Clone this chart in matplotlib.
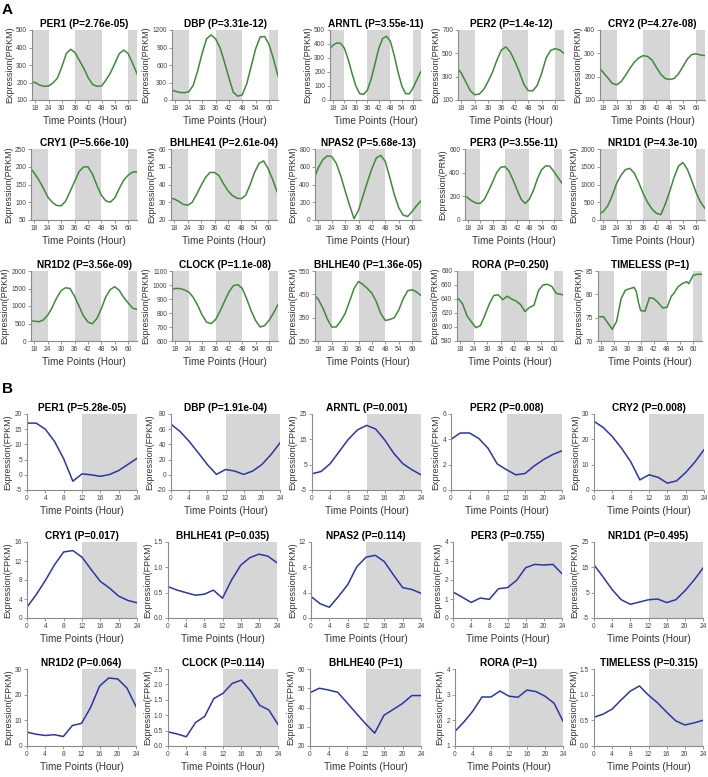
import matplotlib
matplotlib.use('Agg')
import matplotlib.pyplot as plt
import numpy as np

plt.rcParams['font.family'] = ['Liberation Sans', 'DejaVu Sans']

# ---------------- data ----------------
genes = ['PER1', 'DBP', 'ARNTL', 'PER2', 'CRY2',
         'CRY1', 'BHLHE41', 'NPAS2', 'PER3', 'NR1D1',
         'NR1D2', 'CLOCK', 'BHLHE40', 'RORA', 'TIMELESS']
pvals_A = ['2.76e-05', '3.31e-12', '3.55e-11', '1.4e-12', '4.27e-08',
           '5.66e-10', '2.61e-04', '5.68e-13', '3.55e-11', '4.3e-10',
           '3.56e-09', '1.1e-08', '1.36e-05', '0.250', '1']
pvals_B = ['5.28e-05', '1.91e-04', '0.001', '0.008', '0.008',
           '0.017', '0.035', '0.114', '0.755', '0.495',
           '0.064', '0.114', '1', '1', '0.315']
ylabels_A = ['Expression(PRKM)'] * 8 + ['Expression(PRM)'] + ['Expression(PRKM)'] * 6
ylabel_B = 'Expression(FPKM)'

hours_A = list(range(16, 65, 2))
xticks_A = [18, 24, 30, 36, 42, 48, 54, 60]
dark_A = [(16.5, 24), (36, 48), (60, 64)]

a_per1 = [200, 200, 185, 178, 180, 198, 225, 290, 365, 390, 370, 325, 280, 225, 188, 178, 180, 215, 255, 310, 365, 385, 365, 310, 250]
a_dbp = [170, 150, 130, 125, 140, 250, 500, 800, 1050, 1115, 1050, 900, 650, 380, 130, 65, 90, 280, 580, 880, 1080, 1090, 950, 700, 410]
a_arntl = [360, 390, 408, 405, 370, 290, 190, 100, 45, 40, 70, 150, 260, 370, 440, 455, 420, 320, 200, 100, 45, 45, 90, 150, 205]
a_per2 = [380, 330, 255, 180, 145, 150, 190, 260, 340, 445, 530, 555, 510, 430, 340, 235, 180, 178, 225, 330, 460, 525, 540, 530, 500]
a_cry2 = [240, 218, 195, 172, 165, 178, 205, 235, 262, 280, 290, 287, 272, 240, 210, 192, 188, 192, 212, 243, 275, 295, 298, 293, 290]
a_cry1 = [198, 182, 163, 140, 115, 100, 91, 90, 103, 130, 158, 186, 199, 200, 180, 148, 120, 104, 100, 112, 138, 162, 176, 185, 186]
a_bhlhe41 = [32.5, 31.8, 30.5, 28.8, 28.3, 30, 34.5, 39.5, 44, 46.8, 46.8, 45, 40.5, 36.5, 33.8, 32.3, 32, 34, 40, 47, 52, 53.3, 49, 43, 36]
a_npas2 = [460, 590, 680, 722, 715, 640, 500, 330, 165, 15, 110, 270, 430, 580, 700, 728, 660, 480, 290, 140, 55, 40, 95, 160, 215]
a_per3 = [210, 185, 160, 142, 140, 175, 245, 320, 400, 445, 452, 415, 340, 255, 175, 140, 175, 250, 350, 425, 458, 455, 410, 360, 310]
a_nr1d1 = [160, 240, 400, 680, 1030, 1260, 1420, 1455, 1320, 1060, 750, 500, 310, 190, 150, 440, 800, 1200, 1520, 1620, 1430, 1110, 770, 500, 326]
a_nr1d2 = [580, 565, 550, 600, 740, 960, 1230, 1440, 1520, 1500, 1280, 1000, 720, 540, 495, 640, 920, 1260, 1470, 1550, 1450, 1250, 1090, 940, 900]
a_clock = [965, 975, 975, 965, 950, 912, 855, 785, 735, 724, 752, 812, 882, 950, 995, 1003, 975, 900, 815, 745, 700, 710, 748, 800, 860]
a_bhlhe40 = [450, 428, 392, 345, 310, 310, 335, 368, 420, 475, 505, 492, 475, 455, 418, 367, 338, 342, 350, 382, 430, 465, 470, 460, 445]
hours_rora = [16, 17, 19, 21, 23, 25, 27, 29, 31, 33, 35, 37, 39, 41, 43, 45, 47, 49, 51, 53, 55, 57, 59, 61, 64]
a_rora = [643, 641, 633, 616, 607, 599, 602, 617, 633, 645, 646, 639, 644, 640, 637, 632, 622, 628, 631, 652, 660, 661, 658, 648, 646]
hours_timeless = [16, 17, 19, 20, 22, 23, 25, 27, 29, 31, 33, 34, 35, 36, 38, 40, 42, 44, 46, 48, 50, 51, 53, 55, 57, 58, 60, 62, 64]
a_timeless = [75.2, 75.2, 75.2, 74.5, 73.2, 72.5, 74.2, 79, 80.9, 81.2, 81.5, 80.6, 78.2, 76.5, 76.4, 79.3, 79.1, 78.2, 77.1, 77.2, 79.6, 80.1, 81.6, 82.3, 82.7, 82.3, 84.1, 84.3, 84.3]

yrange_A = [(100, 500, 100), (0, 1200, 300), (0, 500, 100), (100, 700, 200), (100, 400, 100),
            (50, 250, 50), (20, 60, 10), (0, 800, 200), (0, 600, 200), (0, 2000, 500),
            (0, 2000, 500), (600, 1100, 100), (250, 550, 100), (580, 680, 20), (70, 85, 5)]

hours_B = list(range(0, 25, 2))
xticks_B = [0, 4, 8, 12, 16, 20, 24]
dark_B = [(12, 24)]

b_per1 = [17, 17, 15, 11, 5.3, -2.1, 0.3, 0, -0.5, 0.1, 1.4, 3.4, 5.4]
b_dbp = [66.5, 57, 44, 29, 13.5, 0.5, 7, 5, 0.5, 5, 13.5, 26.5, 42]
b_arntl = [1.4, 2.3, 5.4, 10.2, 15, 18.7, 20.5, 19.1, 14.8, 9.5, 5.4, 3, 1]
b_per2 = [4.0, 4.5, 4.5, 4.07, 3.3, 2.06, 1.6, 1.2, 1.3, 1.9, 2.4, 2.8, 3.1]
b_cry2 = [27.1, 24.7, 21.1, 16.5, 11.2, 4, 6, 5, 2.7, 3.6, 6.9, 11, 15.9]
b_cry1 = [2.3, 4.9, 7.9, 11.2, 13.9, 14.2, 12.8, 10.2, 7.7, 6.3, 4.6, 3.7, 3.2]
b_bhlhe41 = [0.62, 0.55, 0.5, 0.45, 0.47, 0.55, 0.39, 0.75, 1.04, 1.19, 1.26, 1.22, 1.09]
b_npas2 = [3.4, 2.25, 1.7, 3.4, 5.25, 8.1, 9.6, 9.9, 8.9, 6.8, 4.8, 4.5, 3.9]
b_per3 = [1.37, 1.1, 0.82, 1.05, 0.98, 1.54, 1.6, 1.98, 2.65, 2.82, 2.79, 2.82, 2.33]
b_nr1d1 = [16, 11.2, 6.2, 2.2, 0.4, 1.3, 2.2, 2.5, 1.1, 2.2, 5.7, 9.9, 14.7]
b_nr1d2 = [5.4, 4.6, 4.1, 4.4, 3.7, 8, 8.8, 15, 23.4, 26.5, 26.1, 22.6, 15.4]
b_clock = [0.46, 0.39, 0.3, 0.76, 0.96, 1.54, 1.71, 2.03, 2.14, 1.79, 1.32, 1.17, 0.7]
b_bhlhe40 = [47.7, 50, 49.1, 47.9, 42.5, 37, 31.6, 26.7, 36, 39, 42.1, 46.2, 46.2]
b_rora = [1.57, 1.94, 2.37, 2.91, 2.91, 3.14, 2.94, 2.9, 3.18, 3.12, 2.94, 2.67, 1.97]
b_timeless = [0.56, 0.62, 0.72, 0.9, 1.07, 1.17, 0.99, 0.84, 0.66, 0.49, 0.41, 0.45, 0.5]

yrange_B = [(-5, 20, 5), (-20, 80, 20), (-5, 25, 10), (0, 6, 2), (0, 30, 10),
            (0, 16, 4), (0, 1.5, 0.5), (0, 12, 4), (0, 4, 1), (-5, 25, 10),
            (0, 30, 10), (0, 2.5, 0.5), (20, 60, 10), (1, 4, 1), (0, 1.5, 0.5)]

series_A = [(hours_A, a_per1), (hours_A, a_dbp), (hours_A, a_arntl), (hours_A, a_per2), (hours_A, a_cry2),
            (hours_A, a_cry1), (hours_A, a_bhlhe41), (hours_A, a_npas2), (hours_A, a_per3), (hours_A, a_nr1d1),
            (hours_A, a_nr1d2), (hours_A, a_clock), (hours_A, a_bhlhe40), (hours_rora, a_rora),
            (hours_timeless, a_timeless)]
series_B = [b_per1, b_dbp, b_arntl, b_per2, b_cry2, b_cry1, b_bhlhe41, b_npas2, b_per3, b_nr1d1,
            b_nr1d2, b_clock, b_bhlhe40, b_rora, b_timeless]

# ---------------- layout (pixels) ----------------
W, H = 708, 777
rows_A = [(30, 100), (149, 220), (271, 341)]
cols_A = [[(32, 137), (172, 278), (330, 421), (458, 564), (600, 705)],
          [(31, 137), (171, 277), (315, 421), (465, 562), (600, 705)],
          [(31, 137), (172, 278), (315, 421), (457, 563), (598, 702)]]
rows_B = [(414, 490), (542, 618), (669, 746)]
cols_B = [[(27, 137), (171, 280), (312, 421), (451, 562), (594, 704)],
          [(27, 137), (168, 277), (311, 421), (453, 562), (594, 703)],
          [(27, 136), (168, 278), (310, 421), (455, 563), (594, 703)]]

GREEN = '#3f8a3a'
BLUE = '#2b36a6'
SHADE = '#d6d6d6'
SPINE = '#8a8a8a'
TICKC = '#444444'

fig = plt.figure(figsize=(W / 100, H / 100), dpi=100)


def make_ax(x0, x1, yt, yb):
    return fig.add_axes([x0 / W, 1 - yb / H, (x1 - x0) / W, (yb - yt) / H])


def style(ax, ylab, title, yr, decimals):
    lo, hi, st = yr
    ax.set_ylim(lo, hi)
    ticks = np.arange(lo, hi + st / 2, st)
    ax.set_yticks(ticks)
    if decimals:
        ax.set_yticklabels([f'{t:.1f}' for t in ticks])
    else:
        ax.set_yticklabels([f'{int(round(t))}' for t in ticks])
    for s in ['top', 'right']:
        ax.spines[s].set_visible(False)
    for s in ['left', 'bottom']:
        ax.spines[s].set_color(SPINE)
        ax.spines[s].set_linewidth(0.8)
    ax.tick_params(axis='both', length=2, width=0.6, color=SPINE, labelsize=4.8,
                   labelcolor=TICKC, pad=1.5)
    ax.set_title(title, fontsize=7.3, fontweight='bold', pad=2.5)
    ax.set_ylabel(ylab, fontsize=6.5, color='#333333', labelpad=1.5)
    ax.set_xlabel('Time Points (Hour)', fontsize=7.2, color='#333333', labelpad=3)


k = 0
for r in range(3):
    yt, yb = rows_A[r]
    for c in range(5):
        x0, x1 = cols_A[r][c]
        ax = make_ax(x0, x1, yt, yb)
        for a, b in dark_A:
            ax.axvspan(a, b, color=SHADE, lw=0, zorder=0)
        xs, ys = series_A[k]
        ax.plot(xs, ys, color=GREEN, lw=1.1, zorder=2)
        ax.set_xlim(16.5, 64)
        ax.set_xticks(xticks_A)
        style(ax, ylabels_A[k], f'{genes[k]} (P={pvals_A[k]})', yrange_A[k], False)
        k += 1

k = 0
for r in range(3):
    yt, yb = rows_B[r]
    for c in range(5):
        x0, x1 = cols_B[r][c]
        ax = make_ax(x0, x1, yt, yb)
        for a, b in dark_B:
            ax.axvspan(a, b, color=SHADE, lw=0, zorder=0)
        ax.plot(hours_B, series_B[k], color=BLUE, lw=1.1, zorder=2)
        ax.set_xlim(0, 24)
        ax.set_xticks(xticks_B)
        dec = genes[k] in ('BHLHE41', 'CLOCK', 'TIMELESS')
        style(ax, ylabel_B, f'{genes[k]} (P={pvals_B[k]})', yrange_B[k], dec)
        k += 1

fig.text(2 / W, 1 - 3 / H, 'A', fontsize=11, fontweight='bold', va='top', ha='left')
fig.text(2 / W, 1 - 382 / H, 'B', fontsize=11, fontweight='bold', va='top', ha='left')

fig.savefig('out.png', dpi=100)
